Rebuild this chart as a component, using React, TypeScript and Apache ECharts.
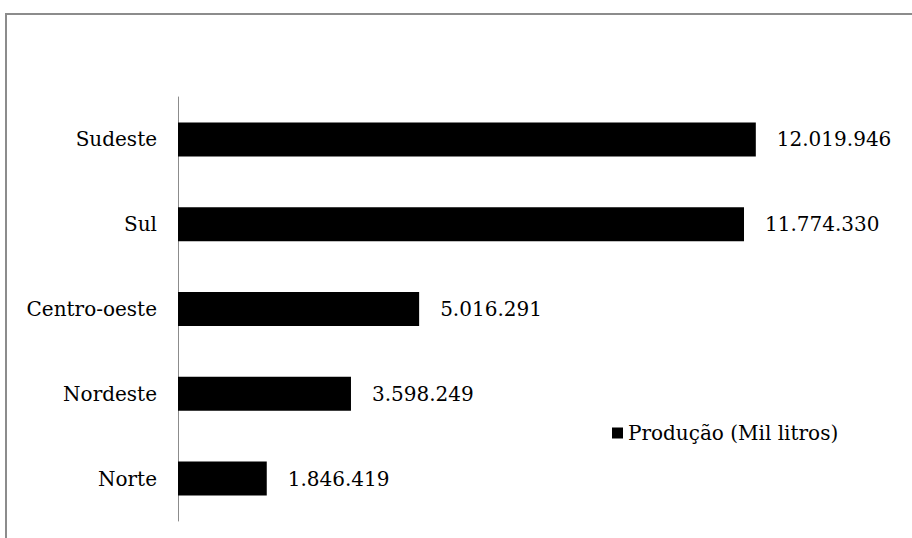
import React, { useEffect, useRef } from "react";
import * as echarts from "echarts";

const categories = ["Norte", "Nordeste", "Centro-oeste", "Sul", "Sudeste"];
const producao = [1846419, 3598249, 5016291, 11774330, 12019946];
const seriesName = "Produção (Mil litros)";

const FONT = "DejaVu Serif";

function fmt(v: number): string {
  return String(Math.round(v)).replace(/\B(?=(\d{3})+(?!\d))/g, ".");
}

export default function App() {
  const ref = useRef<HTMLDivElement>(null);
  useEffect(() => {
    document.body.style.margin = "0";
    const chart = echarts.init(ref.current!, null, { renderer: "svg" });
    chart.setOption({
      animation: false,
      backgroundColor: "#ffffff",
      textStyle: { fontFamily: FONT },
      graphic: [
        {
          type: "rect",
          shape: { x: 6, y: 14, width: 1000, height: 1000 },
          style: { fill: "none", stroke: "#8c8c8c", lineWidth: 2 },
          silent: true,
        },
      ],
      grid: { left: 178, right: 61, top: 97, bottom: 17, containLabel: false },
      xAxis: {
        type: "value",
        min: 0,
        max: 14000000,
        show: false,
      },
      yAxis: {
        type: "category",
        data: categories,
        axisLine: { show: true, lineStyle: { color: "#8c8c8c", width: 1 } },
        axisTick: { show: false },
        axisLabel: {
          fontFamily: FONT,
          fontSize: 20,
          color: "#000",
          margin: 21,
        },
      },
      legend: {
        data: [seriesName],
        left: 612,
        top: 423,
        padding: 0,
        icon: "rect",
        itemWidth: 11,
        itemHeight: 11,
        textStyle: { fontFamily: FONT, fontSize: 20, color: "#000" },
      },
      series: [
        {
          name: seriesName,
          type: "bar",
          data: producao,
          barWidth: 34,
          itemStyle: { color: "#000" },
          label: {
            show: true,
            position: "right",
            distance: 21,
            fontFamily: FONT,
            fontSize: 20,
            color: "#000",
            formatter: (p: any) => fmt(p.value),
          },
        },
      ],
    });
    return () => chart.dispose();
  }, []);
  return <div ref={ref} style={{ width: 912, height: 538 }} />;
}
